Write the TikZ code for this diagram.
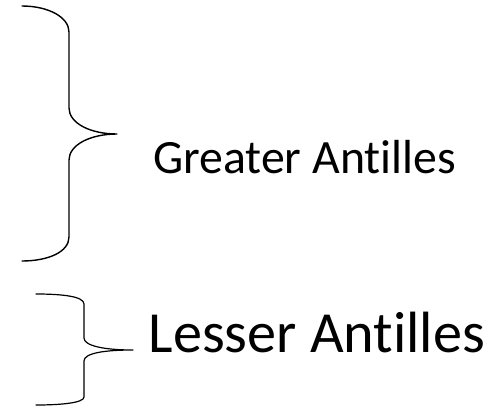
\documentclass[tikz,border=0pt]{standalone}
\usepackage{fontspec}
\setmainfont[Ligatures=NoCommon]{Carlito}
\begin{document}
\begin{tikzpicture}[x=1pt,y=-1pt,
  bracestyle/.style={line width=1.4pt,line cap=round,line join=round},
  label/.style={inner sep=0pt,anchor=base west}]
\useasboundingbox (0,0) rectangle (504,408);
% Greater Antilles brace
\draw[bracestyle] (22,6) .. controls (48,6) and (69,17) .. (69,32)
  -- (69,108) .. controls (69,123) and (90,134) .. (117,134)
  .. controls (90,134) and (69,145) .. (69,160)
  -- (69,237) .. controls (69,252) and (48,261) .. (22,261);
% Lesser Antilles brace
\draw[bracestyle,line width=1.2pt] (36,294) .. controls (60,294) and (84,296) .. (84,304)
  -- (84,338) .. controls (84,346) and (105,350) .. (133,350)
  .. controls (105,350) and (84,353) .. (84,361)
  -- (84,397) .. controls (84,403) and (60,405) .. (36,405);
\node[label,font=\fontsize{47.8}{50}\selectfont] (ga) at (153,173) {Greater Antilles};
\node[label,font=\fontsize{58.2}{60}\selectfont] (la) at (148.5,352) {Lesser Antilles};
\end{tikzpicture}
\end{document}
